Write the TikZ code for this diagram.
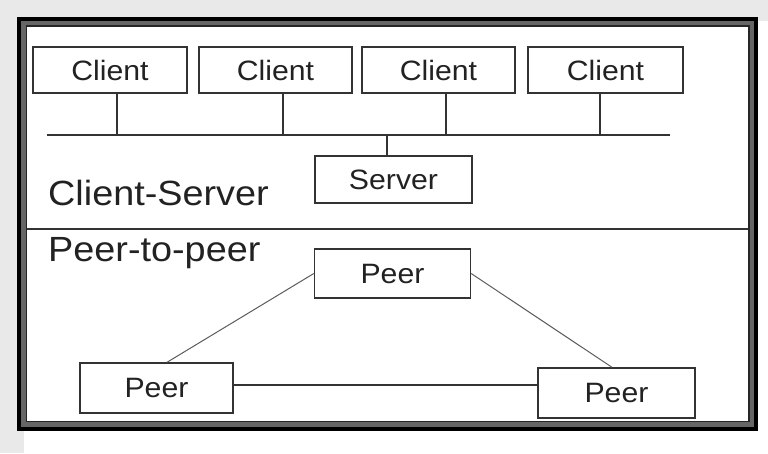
\documentclass[tikz,border=0pt]{standalone}
\usepackage{fontspec}
\setmainfont[FakeStretch=1.08]{Liberation Sans}
\definecolor{ink}{HTML}{222222}
\definecolor{edge}{HTML}{333333}
\definecolor{backdrop}{HTML}{E9E9E9}
\begin{document}
\begin{tikzpicture}[x=1pt,y=-1pt,
  box/.style={draw=edge,line width=1.4pt,fill=white,inner sep=0pt,
    text=ink,font=\fontsize{28}{30}\selectfont},
  label/.style={anchor=base west,inner sep=0pt,text=ink,
    font=\fontsize{35}{38}\selectfont},
  wire/.style={draw=edge,line width=1.4pt},
  link/.style={draw=edge!80,line width=1pt}]
\useasboundingbox (0,0) rectangle (768,453);
% page backdrop with a soft grey edge on top and left
\fill[backdrop] (0,0) rectangle (768,453);
\fill[white] (24,21) rectangle (768,453);
% bevelled outer frame
\draw[line width=7pt,color=gray!80!black] (22.5,22) rectangle (752.5,425.5);
\draw[line width=3.5pt,black] (19,19) rectangle (756,429);
\draw[line width=1.6pt,black!85] (26.5,26) rectangle (749,421.5);
% divider between the two halves
\coordinate (dL) at (27,229);
\coordinate (dR) at (748,229);
\draw[wire] (dL) -- (dR);

% ---- client-server ----
\node[box,minimum width=154pt,minimum height=46pt] (c1) at (110,70) {Client};
\node[box,minimum width=153pt,minimum height=46pt] (c2) at (275.5,70) {Client};
\node[box,minimum width=153pt,minimum height=46pt] (c3) at (438.5,70) {Client};
\node[box,minimum width=155pt,minimum height=46pt] (c4) at (605.5,70) {Client};
\node[box,minimum width=157pt,minimum height=47pt] (srv) at (393.5,179.5) {Server};
\coordinate (busL) at (47,135);
\coordinate (busR) at (670,135);
\draw[wire] (busL) -- (busR);
\draw[wire] ([xshift=7pt]c1.south) -- ([xshift=7pt]c1.south |- busL);
\draw[wire] ([xshift=7.5pt]c2.south) -- ([xshift=7.5pt]c2.south |- busL);
\draw[wire] ([xshift=7.5pt]c3.south) -- ([xshift=7.5pt]c3.south |- busL);
\draw[wire] ([xshift=-5.5pt]c4.south) -- ([xshift=-5.5pt]c4.south |- busL);
\draw[wire] ([xshift=-6.5pt]srv.north) -- ([xshift=-6.5pt]srv.north |- busL);
\node[label] (lcs) at (48,205) {Client-Server};

% ---- peer-to-peer ----
\node[label] (lpp) at (48,261) {Peer-to-peer};
\node[box,minimum width=156pt,minimum height=49pt] (pt) at (392.5,273.5) {Peer};
\node[box,minimum width=153pt,minimum height=50pt] (pl) at (156.5,388) {Peer};
\node[box,minimum width=157pt,minimum height=50pt] (pr) at (616.5,393) {Peer};
\draw[link] (pt.west) -- ([xshift=10.5pt]pl.north);
\draw[link] (pt.east) -- ([xshift=-4.5pt]pr.north);
\draw[wire] ([yshift=3pt]pl.east) -- ([yshift=3pt]pl.east -| pr.west);
\end{tikzpicture}
\end{document}
